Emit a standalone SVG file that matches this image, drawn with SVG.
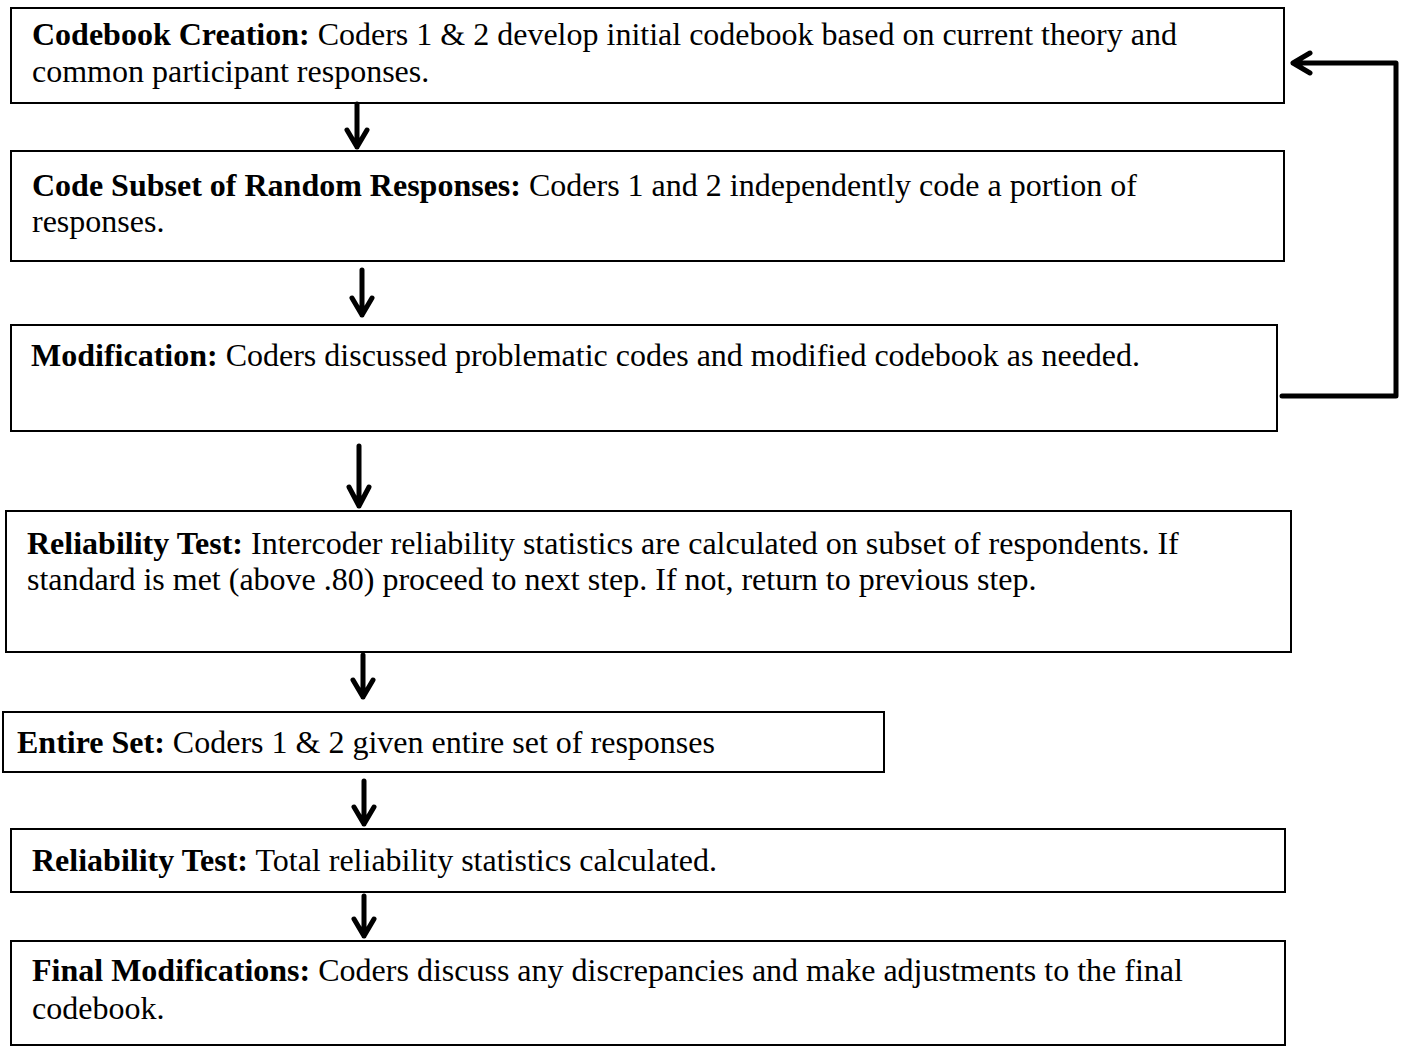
<svg xmlns="http://www.w3.org/2000/svg" width="1403" height="1046" viewBox="0 0 1403 1046">
<style>
.box{fill:#fff;stroke:#000;stroke-width:2}
text{font-family:"Liberation Serif","Times New Roman",serif;font-size:32px;fill:#000}
.b{font-weight:bold}
.con{fill:none;stroke:#000;stroke-width:5;stroke-linecap:round;stroke-linejoin:round}
</style>
<rect width="1403" height="1046" fill="#fff"/>
<g id="n1"><rect class="box" x="11" y="8" width="1273" height="95"/>
<text x="32" y="45"><tspan class="b">Codebook Creation:</tspan> Coders 1 &amp; 2 develop initial codebook based on current theory and</text>
<text x="32" y="82">common participant responses.</text></g>
<g id="n2"><rect class="box" x="11" y="151" width="1273" height="110"/>
<text x="32" y="196"><tspan class="b">Code Subset of Random Responses:</tspan> Coders 1 and 2 independently code a portion of</text>
<text x="32" y="232">responses.</text></g>
<g id="n3"><rect class="box" x="11" y="325" width="1266" height="106"/>
<text x="31" y="366"><tspan class="b">Modification:</tspan> Coders discussed problematic codes and modified codebook as needed.</text></g>
<g id="n4"><rect class="box" x="6" y="511" width="1285" height="141"/>
<text x="27" y="554"><tspan class="b">Reliability Test:</tspan> Intercoder reliability statistics are calculated on subset of respondents. If</text>
<text x="27" y="590">standard is met (above .80) proceed to next step. If not, return to previous step.</text></g>
<g id="n5"><rect class="box" x="3" y="712" width="881" height="60"/>
<text x="17" y="753"><tspan class="b">Entire Set:</tspan> Coders 1 &amp; 2 given entire set of responses</text></g>
<g id="n6"><rect class="box" x="11" y="829" width="1274" height="63"/>
<text x="32" y="871"><tspan class="b">Reliability Test:</tspan> Total reliability statistics calculated.</text></g>
<g id="n7"><rect class="box" x="11" y="941" width="1274" height="104"/>
<text x="32" y="981"><tspan class="b">Final Modifications:</tspan> Coders discuss any discrepancies and make adjustments to the final</text>
<text x="32" y="1019">codebook.</text></g>
<g id="connectors">
<path class="con" d="M357 104V147M347 130L357 147L367 130"/>
<path class="con" d="M362 270V315M352 298L362 315L372 298"/>
<path class="con" d="M359 446V506M349 487L359 506L369 487"/>
<path class="con" d="M363 655V697M353 680L363 697L373 680"/>
<path class="con" d="M364 781V824M354 807L364 824L374 807"/>
<path class="con" d="M364 896V936M354 919L364 936L374 919"/>
<path class="con" d="M1282 396H1396V63H1293M1310 53L1293 63L1310 73"/>
</g>
</svg>
